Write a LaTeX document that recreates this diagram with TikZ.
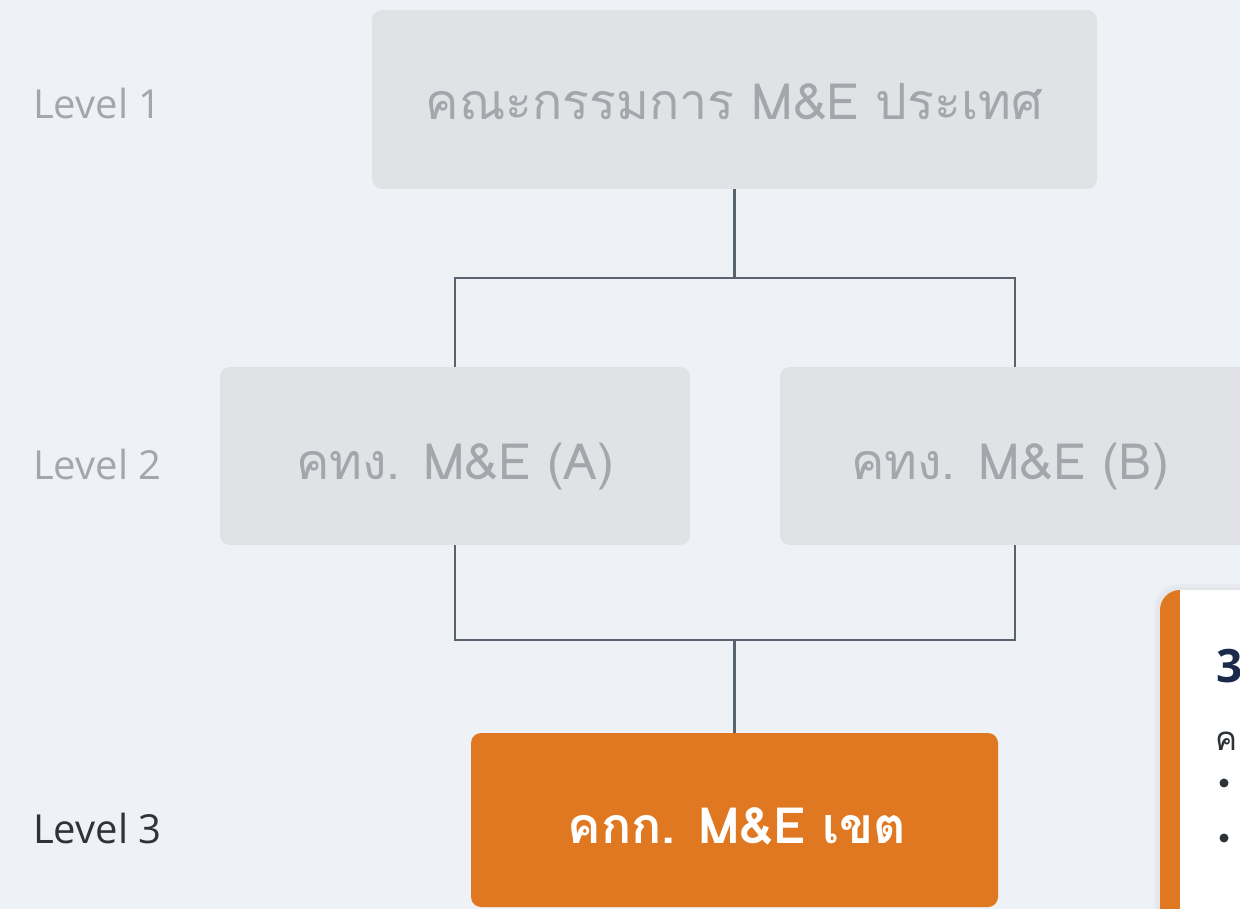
\documentclass[tikz,border=0pt]{standalone}
\usepackage{fontspec}
\newfontfamily\thaifont[Script=Thai]{Loma}
\newfontfamily\labelfont{Open Sans}
\definecolor{pagebg}{HTML}{EEF1F5}
\definecolor{boxgray}{HTML}{E0E2E6}
\definecolor{textgray}{HTML}{A3A6AA}
\definecolor{linegray}{HTML}{5A6270}
\definecolor{accent}{HTML}{E07821}
\definecolor{navy}{HTML}{1B2A4A}
\definecolor{darktext}{HTML}{2E3338}
\tikzset{
  box/.style={rounded corners=10pt, inner sep=0pt},
  graybox/.style={box, fill=boxgray},
  orangebox/.style={box, fill=accent},
  boxtext/.style={anchor=base, inner sep=0pt, font=\thaifont\fontsize{50}{56}\selectfont},
  lvl/.style={anchor=base west, inner sep=0pt, font=\labelfont\fontsize{40}{44}\selectfont},
  link/.style={draw=linegray, line width=2.9pt},
}
\begin{document}
\begin{tikzpicture}[x=1pt, y=-1pt]
  \useasboundingbox (0,0) rectangle (1240,909);
  \clip (0,0) rectangle (1240,909);
  \fill[pagebg] (0,0) rectangle (1240,909);

  % level labels
  \node[lvl, text=textgray] (lv1) at (33,119) {Level 1};
  \node[lvl, text=textgray] (lv2) at (33,479) {Level 2};
  \node[lvl, text=darktext] (lv3) at (33,843) {Level 3};

  % boxes
  \node[graybox, minimum width=725pt, minimum height=179pt] (l1) at (734.5,99.5) {};
  \node[graybox, minimum width=470pt, minimum height=178pt] (l2a) at (455,456) {};
  \node[graybox, minimum width=470pt, minimum height=178pt] (l2b) at (1015,456) {};
  \node[orangebox, minimum width=527pt, minimum height=174pt] (l3) at (734.5,820) {};

  % box captions
  \node[boxtext, text=textgray] (t1) at (734.5,120) {คณะกรรมการ M\&E ประเทศ};
  \node[boxtext, text=textgray] (t2a) at (455,479) {คทง. M\&E (A)};
  \node[boxtext, text=textgray] (t2b) at (1010,479) {คทง. M\&E (B)};
  \node[boxtext, text=white, font=\thaifont\bfseries\fontsize{50}{56}\selectfont] (t3) at (737,843) {คกก. M\&E เขต};

  % connectors
  \coordinate (j1) at (734.5,278);
  \coordinate (j2) at (734.5,640);
  \draw[link] (l1.south) -- (j1);
  \draw[link] (l2a.north) |- (j1);
  \draw[link] (l2b.north) |- (j1);
  \draw[link] (l2a.south) |- (j2);
  \draw[link] (l2b.south) |- (j2);
  \draw[link] (j2) -- (l3.north);

  % side card with soft shadow
  \fill[black, opacity=0.025, rounded corners=23pt] (1154,584) rectangle (1300,960);
  \fill[black, opacity=0.02, rounded corners=21pt] (1157,587) rectangle (1300,960);
  \fill[accent, rounded corners=20pt] (1160,590) rectangle (1300,960);
  \fill[white] (1180,590) rectangle (1300,960);
  \node[anchor=base west, inner sep=0pt, text=navy, font=\labelfont\bfseries\fontsize{46}{50}\selectfont] (c1) at (1216,682) {3};
  \node[anchor=base west, inner sep=0pt, text=darktext, font=\thaifont\fontsize{33}{38}\selectfont] (c2) at (1215,750) {ค};
  \fill[darktext] (1224,783) circle (4.5pt);
  \fill[darktext] (1224,838) circle (4.5pt);
\end{tikzpicture}
\end{document}
